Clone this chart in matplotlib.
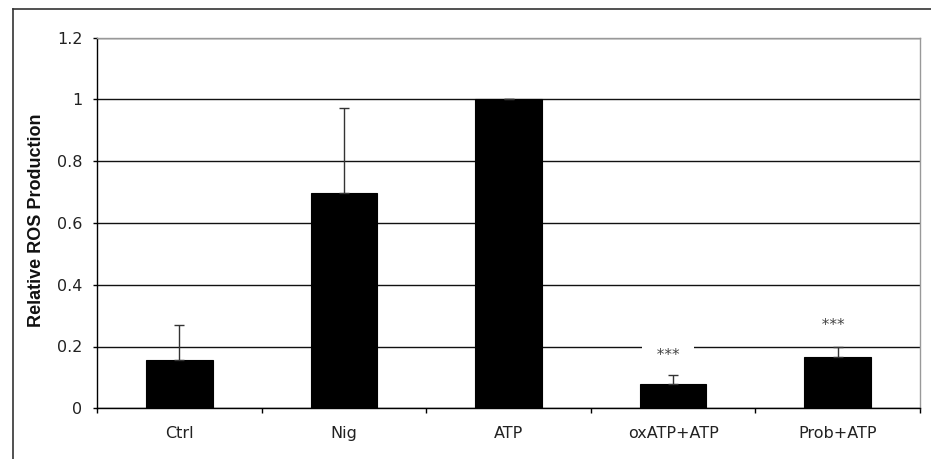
import matplotlib
matplotlib.use("Agg")
import matplotlib.pyplot as plt
from matplotlib.lines import Line2D
import numpy as np

categories = ["Ctrl", "Nig", "ATP", "oxATP+ATP", "Prob+ATP"]
values = [0.156, 0.696, 1.0, 0.079, 0.165]
errors = [0.114, 0.277, 0.0, 0.029, 0.033]
sig_labels = ["", "", "", "***", "***"]
sig_y = [0, 0, 0, 0.156, 0.253]
yticks = [0, 0.2, 0.4, 0.6, 0.8, 1.0, 1.2]
ytick_labels = ["0", "0.2", "0.4", "0.6", "0.8", "1", "1.2"]

plt.rcParams['font.family'] = ['DejaVu Sans']

fig = plt.figure(figsize=(9.31, 4.59), dpi=100)
ax = fig.add_axes([97/931, 1 - 408.3/459, (920-97)/931, (408.3-37.5)/459])

x = np.arange(len(categories))
ax.bar(x, values, width=0.405, color='black', edgecolor='black', linewidth=0.8, zorder=3)
ax.errorbar(x, values, yerr=[np.zeros(len(errors)), errors], fmt='none',
            ecolor='#333333', elinewidth=1.0, capsize=3.8, capthick=1.0, zorder=5)

ax.set_xlim(-0.5, len(categories) - 0.5)
ax.set_ylim(0, 1.2)
ax.set_yticks(yticks)
ax.set_yticklabels(ytick_labels, fontsize=11.5, color='#222222')
ax.yaxis.grid(True, color='#111111', linewidth=1.0, zorder=0)
ax.set_axisbelow(True)

ax.set_xticks(x)
ax.set_xticklabels(categories, fontsize=11.5, color='#222222')
ax.tick_params(axis='x', length=0, pad=12.5)
ax.set_xticks(np.arange(-0.5, len(categories) + 0.5, 1.0), minor=True)
ax.tick_params(axis='x', which='minor', length=3.5, direction='out', width=1, color='black')
ax.tick_params(axis='y', length=3, direction='out', width=1, color='black', pad=7.5)

for s in ['top', 'right']:
    ax.spines[s].set_color('#999999')
    ax.spines[s].set_linewidth(1.0)
ax.spines['left'].set_color('black')
ax.spines['bottom'].set_color('black')
ax.spines['left'].set_linewidth(1.0)
ax.spines['bottom'].set_linewidth(1.0)

ax.set_ylabel("Relative ROS Production", fontsize=13, fontweight='bold',
              family=['Liberation Sans', 'DejaVu Sans'], color='#111111')
ax.yaxis.set_label_coords((45.5 - 97) / 823, 0.508)

for xi, lab, yy in zip(x, sig_labels, sig_y):
    if lab:
        ax.text(xi - 0.03, yy, f"  {lab}  ", ha='center', va='baseline', fontsize=11,
                color='#444444', zorder=4,
                bbox=dict(boxstyle='square,pad=0.3', facecolor='white', edgecolor='none'))

# outer chart border
fig.add_artist(Line2D([12.5/931, 12.5/931], [0, 1 - 9/459], transform=fig.transFigure,
                      color='#333333', linewidth=1.2))
fig.add_artist(Line2D([12.5/931, 1], [1 - 9/459, 1 - 9/459], transform=fig.transFigure,
                      color='#333333', linewidth=1.2))

fig.savefig("out.png", dpi=100)
